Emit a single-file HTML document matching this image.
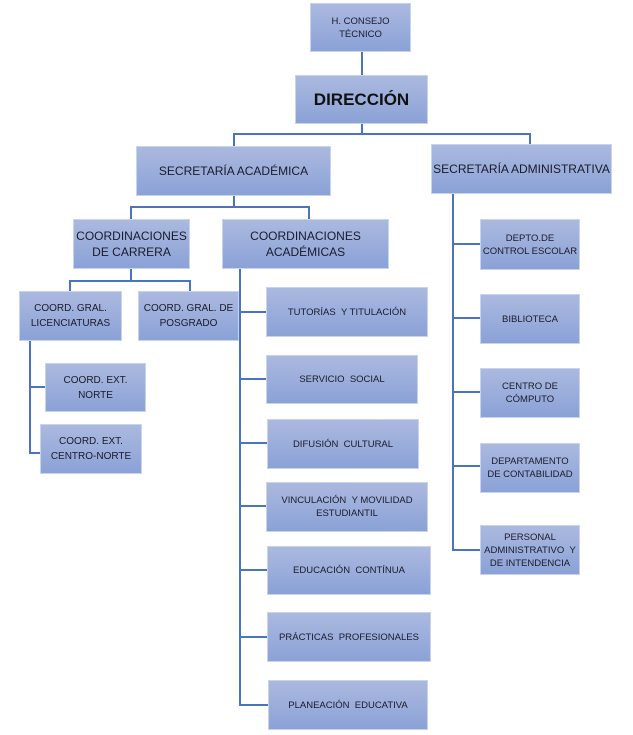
<!DOCTYPE html>
<html><head><meta charset="utf-8"><style>
body{margin:0;width:633px;height:735px;background:#fff;position:relative;overflow:hidden;font-family:"Liberation Sans Narrow","Liberation Sans",sans-serif;}
.b{position:absolute;box-sizing:border-box;background:linear-gradient(#abb9df,#8ba2d7);border:1px solid #c9d3ec;display:flex;align-items:center;justify-content:center;text-align:center;color:#1a1a2a;font-size:9.5px;line-height:13px;}
.l{position:absolute;background:#4a74c0;}
</style></head><body>
<!-- lines -->
<div class="l" style="left:361px;top:52px;width:2px;height:24px"></div>
<div class="l" style="left:361px;top:124px;width:2px;height:11px"></div>
<div class="l" style="left:233px;top:133px;width:298px;height:2px"></div>
<div class="l" style="left:233px;top:133px;width:2px;height:14px"></div>
<div class="l" style="left:529px;top:133px;width:2px;height:12px"></div>
<div class="l" style="left:233px;top:196px;width:2px;height:11px"></div>
<div class="l" style="left:130px;top:206px;width:180px;height:2px"></div>
<div class="l" style="left:130px;top:206px;width:2px;height:14px"></div>
<div class="l" style="left:308px;top:206px;width:2px;height:14px"></div>
<div class="l" style="left:130px;top:269px;width:2px;height:12px"></div>
<div class="l" style="left:69px;top:280px;width:122px;height:2px"></div>
<div class="l" style="left:69px;top:280px;width:2px;height:12px"></div>
<div class="l" style="left:189px;top:280px;width:2px;height:12px"></div>
<div class="l" style="left:29px;top:341px;width:2px;height:113px"></div>
<div class="l" style="left:29px;top:386px;width:17px;height:2px"></div>
<div class="l" style="left:29px;top:452px;width:12px;height:2px"></div>
<div class="l" style="left:239px;top:269px;width:2px;height:437px"></div>
<div class="l" style="left:239px;top:311px;width:28px;height:2px"></div>
<div class="l" style="left:239px;top:378px;width:28px;height:2px"></div>
<div class="l" style="left:239px;top:442px;width:28px;height:2px"></div>
<div class="l" style="left:239px;top:505px;width:28px;height:2px"></div>
<div class="l" style="left:239px;top:569px;width:28px;height:2px"></div>
<div class="l" style="left:239px;top:636px;width:28px;height:2px"></div>
<div class="l" style="left:239px;top:704px;width:29px;height:2px"></div>
<div class="l" style="left:452px;top:194px;width:2px;height:357px"></div>
<div class="l" style="left:452px;top:243px;width:28px;height:2px"></div>
<div class="l" style="left:452px;top:317px;width:28px;height:2px"></div>
<div class="l" style="left:452px;top:391px;width:28px;height:2px"></div>
<div class="l" style="left:452px;top:465px;width:28px;height:2px"></div>
<div class="l" style="left:452px;top:549px;width:28px;height:2px"></div>
<!-- boxes -->
<div class="b" style="left:310px;top:3px;width:101px;height:49px">H. CONSEJO<br>TÉCNICO</div>
<div class="b" style="left:295px;top:75px;width:133px;height:49px;font-size:17px;font-weight:bold;color:#111">DIRECCIÓN</div>
<div class="b" style="left:136px;top:146px;width:195px;height:50px;font-size:12px">SECRETARÍA ACADÉMICA</div>
<div class="b" style="left:431px;top:144px;width:181px;height:50px;font-size:12px">SECRETARÍA ADMINISTRATIVA</div>
<div class="b" style="left:73px;top:219px;width:117px;height:50px;font-size:12px;line-height:16px">COORDINACIONES<br>DE CARRERA</div>
<div class="b" style="left:222px;top:219px;width:167px;height:50px;font-size:12px;line-height:16px">COORDINACIONES<br>ACADÉMICAS</div>
<div class="b" style="left:19px;top:291px;width:103px;height:50px;font-size:10px;line-height:15px">COORD. GRAL.<br>LICENCIATURAS</div>
<div class="b" style="left:138px;top:291px;width:101px;height:50px;font-size:10px;line-height:15px">COORD. GRAL. DE<br>POSGRADO</div>
<div class="b" style="left:45px;top:363px;width:101px;height:49px;font-size:10px;line-height:15px">COORD. EXT.<br>NORTE</div>
<div class="b" style="left:40px;top:424px;width:102px;height:50px;font-size:10px;line-height:15px">COORD. EXT.<br>CENTRO-NORTE</div>
<div class="b" style="left:266px;top:287px;width:162px;height:50px">TUTORÍAS &nbsp;Y TITULACIÓN</div>
<div class="b" style="left:266px;top:355px;width:152px;height:49px">SERVICIO &nbsp;SOCIAL</div>
<div class="b" style="left:267px;top:419px;width:152px;height:50px">DIFUSIÓN &nbsp;CULTURAL</div>
<div class="b" style="left:266px;top:482px;width:162px;height:50px">VINCULACIÓN &nbsp;Y MOVILIDAD<br>ESTUDIANTIL</div>
<div class="b" style="left:267px;top:546px;width:164px;height:49px">EDUCACIÓN &nbsp;CONTÍNUA</div>
<div class="b" style="left:267px;top:612px;width:164px;height:50px">PRÁCTICAS &nbsp;PROFESIONALES</div>
<div class="b" style="left:268px;top:680px;width:160px;height:50px">PLANEACIÓN &nbsp;EDUCATIVA</div>
<div class="b" style="left:480px;top:219px;width:100px;height:51px">DEPTO.DE<br>CONTROL ESCOLAR</div>
<div class="b" style="left:480px;top:294px;width:100px;height:50px">BIBLIOTECA</div>
<div class="b" style="left:480px;top:368px;width:100px;height:50px">CENTRO DE<br>CÓMPUTO</div>
<div class="b" style="left:480px;top:443px;width:100px;height:50px">DEPARTAMENTO<br>DE CONTABILIDAD</div>
<div class="b" style="left:480px;top:525px;width:100px;height:50px">PERSONAL<br>ADMINISTRATIVO &nbsp;Y<br>DE INTENDENCIA</div>
</body></html>
